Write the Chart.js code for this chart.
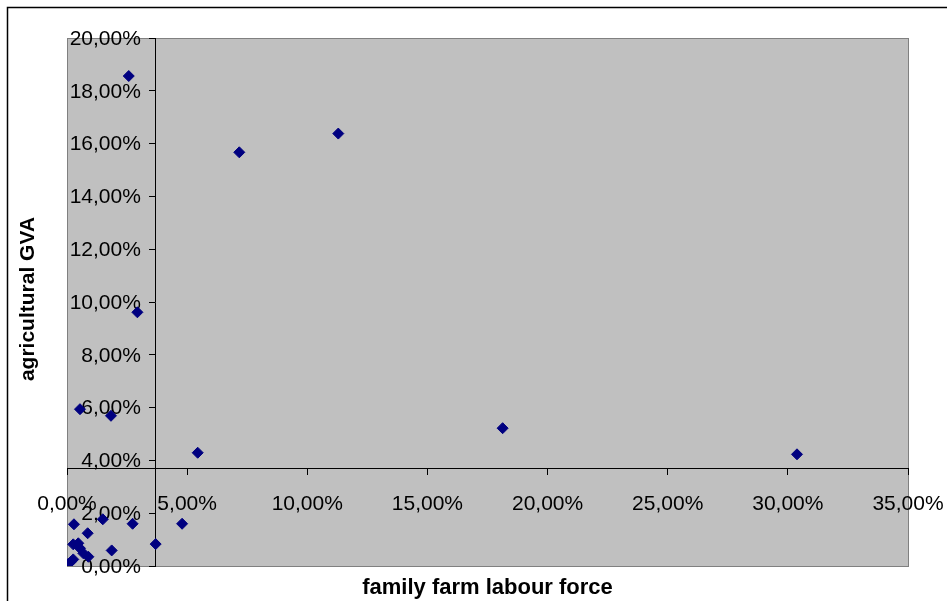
<!DOCTYPE html>
<html>
<head>
    <style>
        body { margin: 0; background: #fff; }
        #chart { width: 947px; height: 601px; }
    </style>
    <script src="https://cdn.jsdelivr.net/npm/chart.js"></script>
</head>
<body>
    <div id="chart"><canvas id="canvas"></canvas></div>
    <script>
        // share of family farm labour force (%), one entry per region
        const labourForce = [2.57, 7.17, 11.29, 2.93, 0.54, 1.83, 5.44, 18.13, 30.38,
            0.29, 1.49, 2.73, 4.79, 0.86, 3.69, 1.86, 0.26, 0.47, 0.54, 0.68, 0.89, 0.26, 0.05, 0.15];
        // share of agricultural GVA (%), same order
        const agriculturalGVA = [18.56, 15.67, 16.38, 9.61, 5.94, 5.69, 4.29, 5.22, 4.23,
            1.58, 1.77, 1.60, 1.60, 1.24, 0.83, 0.59, 0.82, 0.86, 0.67, 0.48, 0.35, 0.25, 0.08, 0.15];

        const xTicks = [0, 5, 10, 15, 20, 25, 30, 35];
        const yTicks = [0, 2, 4, 6, 8, 10, 12, 14, 16, 18, 20];
        const axesCrossAt = 3.7; // both axes cross here

        const fmt = v => v.toFixed(2).replace('.', ',') + '%';
        const FAMILY = 'Liberation Sans, Arial, sans-serif';
        const tickFont = { family: FAMILY, size: 21 };

        // grey plot area, outer frame, y tick labels and axis titles
        const frame = {
            id: 'frame',
            beforeDraw(chart) {
                const { ctx, chartArea: a } = chart;
                ctx.save();
                ctx.fillStyle = '#fff';
                ctx.fillRect(0, 0, chart.width, chart.height);
                ctx.strokeStyle = '#000';
                ctx.lineWidth = 1.5;
                ctx.strokeRect(7.5, 7.5, chart.width + 20, chart.height + 20);
                ctx.fillStyle = '#c0c0c0';
                ctx.fillRect(a.left, a.top, a.right - a.left, a.bottom - a.top);
                ctx.strokeStyle = '#808080';
                ctx.lineWidth = 1;
                ctx.strokeRect(a.left + 0.5, a.top + 0.5, a.right - a.left, a.bottom - a.top);
                ctx.restore();
            },
            // positioned y axis ignores tick padding, so its labels are placed here
            beforeDatasetsDraw(chart) {
                const { ctx, scales: { x, y } } = chart;
                const right = x.getPixelForValue(axesCrossAt) - 15;
                ctx.save();
                ctx.fillStyle = '#000';
                ctx.font = '21px ' + FAMILY;
                ctx.textAlign = 'right';
                ctx.textBaseline = 'middle';
                y.ticks.forEach(t => ctx.fillText(fmt(t.value), right, y.getPixelForValue(t.value) + 1));
                ctx.restore();
            },
            afterDraw(chart) {
                const { ctx, chartArea: a } = chart;
                ctx.save();
                ctx.fillStyle = '#000';
                ctx.font = 'bold 22px ' + FAMILY;
                ctx.textAlign = 'center';
                ctx.textBaseline = 'middle';
                ctx.fillText('family farm labour force', (a.left + a.right) / 2, 588);
                ctx.font = 'bold 21px ' + FAMILY;
                ctx.translate(28, (a.top + a.bottom) / 2 - 3);
                ctx.rotate(-Math.PI / 2);
                ctx.fillText('agricultural GVA', 0, 0);
                ctx.restore();
            }
        };

        new Chart(document.getElementById('canvas'), {
            type: 'scatter',
            data: {
                datasets: [{
                    label: 'regions',
                    data: labourForce.map((x, i) => ({ x: x, y: agriculturalGVA[i] })),
                    pointStyle: 'rectRot',
                    pointRadius: 5.5,
                    pointHoverRadius: 5.5,
                    backgroundColor: '#000080',
                    borderColor: '#000080',
                    borderWidth: 1
                }]
            },
            options: {
                responsive: true,
                maintainAspectRatio: false,
                animation: false,
                layout: { padding: { left: 67, top: 38, right: 39, bottom: 35 } },
                plugins: { legend: { display: false }, tooltip: { enabled: false } },
                scales: {
                    x: {
                        type: 'linear',
                        min: 0,
                        max: 35,
                        position: { y: axesCrossAt },
                        afterBuildTicks: axis => { axis.ticks = xTicks.map(v => ({ value: v })); },
                        // edge labels may overhang, don't let them shrink the plot
                        afterFit: axis => { axis.paddingLeft = 0; axis.paddingRight = 0; },
                        ticks: { callback: fmt, color: '#000', font: tickFont, padding: 17, maxRotation: 0, autoSkip: false },
                        grid: { display: true, drawOnChartArea: false, drawTicks: true, tickLength: 6, color: '#000' },
                        border: { display: true, color: '#000', width: 1 }
                    },
                    y: {
                        type: 'linear',
                        min: 0,
                        max: 20,
                        position: { x: axesCrossAt },
                        afterBuildTicks: axis => { axis.ticks = yTicks.map(v => ({ value: v })); },
                        afterFit: axis => { axis.paddingTop = 0; axis.paddingBottom = 0; },
                        ticks: { display: false },
                        grid: { display: true, drawOnChartArea: false, drawTicks: true, tickLength: 6, color: '#000' },
                        border: { display: true, color: '#000', width: 1 }
                    }
                }
            },
            plugins: [frame]
        });
    </script>
</body>
</html>
